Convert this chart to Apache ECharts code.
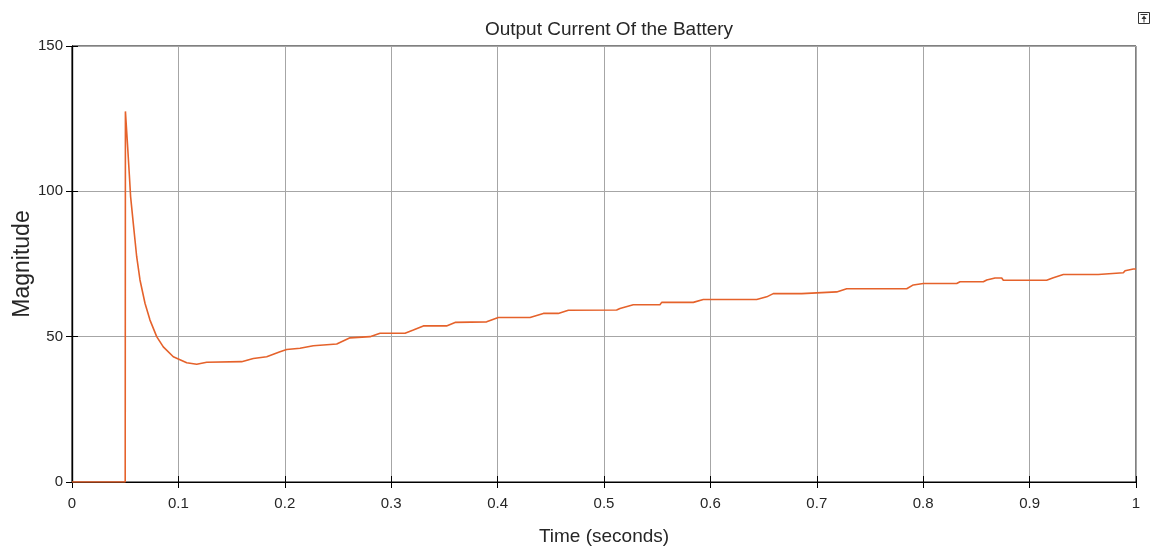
<!DOCTYPE html>
<html>
<head>
<meta charset="utf-8">
<script src="https://cdn.jsdelivr.net/npm/echarts@6/dist/echarts.min.js"></script>
<style>
html,body{margin:0;padding:0;background:#fff;}
#c{width:1158px;height:551px;}
</style>
</head>
<body>
<div id="c"></div>
<script>
// Time (s) and output current magnitude
const timeS = [0, 0.05, 0.0502, 0.0508, 0.0523, 0.0539, 0.0551, 0.0576, 0.0608, 0.0639, 0.0686, 0.0733, 0.0796, 0.0858, 0.0952, 0.1078, 0.1172, 0.1266, 0.1595, 0.1704, 0.183, 0.1955, 0.2018, 0.2143, 0.2268, 0.2488, 0.2613, 0.2801, 0.2895, 0.313, 0.3208, 0.3302, 0.352, 0.36, 0.3897, 0.4007, 0.4305, 0.443, 0.457, 0.4665, 0.5119, 0.515, 0.5275, 0.5526, 0.5542, 0.5839, 0.5933, 0.6435, 0.6529, 0.6591, 0.6858, 0.6873, 0.7187, 0.7281, 0.7845, 0.7907, 0.8001, 0.8315, 0.8346, 0.8565, 0.8597, 0.8675, 0.8738, 0.8753, 0.916, 0.9223, 0.9317, 0.9645, 0.9662, 0.9881, 0.9897, 0.9975, 1.0];
const current = [0, 0, 127.5, 127.5, 115.3, 105.6, 98.1, 89, 77.5, 69.5, 61.5, 55.7, 50, 46.5, 43.1, 41.0, 40.5, 41.2, 41.4, 42.5, 43.1, 44.8, 45.6, 46.0, 46.9, 47.5, 49.6, 50.0, 51.2, 51.2, 52.3, 53.7, 53.7, 54.9, 55.1, 56.6, 56.6, 58.0, 58.0, 59.1, 59.2, 59.7, 61.0, 61.0, 61.8, 61.8, 62.8, 62.8, 63.7, 64.8, 64.8, 65.4, 65.4, 66.5, 66.5, 67.8, 68.3, 68.3, 68.9, 68.9, 69.5, 70.2, 70.2, 69.4, 69.4, 70.3, 71.4, 71.4, 72.0, 72.0, 72.7, 73.3, 73.3];
const xTicks = {min: 0, max: 1, interval: 0.1};
const yTicks = {min: 0, max: 150, interval: 50};
const titleText = 'Output Current Of the Battery';
const xName = 'Time (seconds)';
const yName = 'Magnitude';

const FONT = "'Liberation Sans', Arial, Helvetica, sans-serif";
const chart = echarts.init(document.getElementById('c'), null, {renderer: 'canvas'});
const tick = {show: true, inside: true, length: 6, lineStyle: {color: '#000', width: 1}};
const axisCommon = {
  axisLine: {show: true, lineStyle: {color: '#000', width: 1.2}},
  axisTick: tick,
  splitLine: {show: true, lineStyle: {color: '#a6a6a6', width: 1}},
  axisLabel: {color: '#262626', fontFamily: FONT, fontSize: 15}
};
const hiddenAxis = {
  axisLine: {show: true, lineStyle: {color: '#000', width: 1.2}},
  axisTick: tick, splitLine: {show: false}, axisLabel: {show: false}
};
chart.setOption({
  animation: false,
  backgroundColor: '#fff',
  title: {
    text: titleText, left: 604, top: 15, textAlign: 'center',
    textStyle: {fontFamily: FONT, fontSize: 19, fontWeight: 'normal', color: '#262626'}
  },
  grid: {left: 72, right: 22, top: 46, bottom: 69, show: true, borderColor: '#000', borderWidth: 1,
         backgroundColor: '#fff', containLabel: false, outerBoundsMode: 'none'},
  xAxis: [Object.assign({}, axisCommon, {
    type: 'value', min: xTicks.min, max: xTicks.max, interval: xTicks.interval,
    name: xName, nameLocation: 'middle', nameGap: 45,
    nameTextStyle: {fontFamily: FONT, fontSize: 19, color: '#262626'},
    axisLabel: Object.assign({}, axisCommon.axisLabel, {margin: 14, formatter: v => String(+v.toFixed(1))})
  }), Object.assign({}, hiddenAxis, {
    type: 'value', position: 'top', min: xTicks.min, max: xTicks.max, interval: xTicks.interval
  })],
  yAxis: [Object.assign({}, axisCommon, {
    type: 'value', min: yTicks.min, max: yTicks.max, interval: yTicks.interval,
    name: yName, nameLocation: 'middle', nameGap: 38, nameRotate: 90, nameMoveOverlap: false,
    nameTextStyle: {fontFamily: FONT, fontSize: 23, color: '#262626'},
    axisLabel: Object.assign({}, axisCommon.axisLabel, {margin: 9})
  }), Object.assign({}, hiddenAxis, {
    type: 'value', position: 'right', min: yTicks.min, max: yTicks.max, interval: yTicks.interval
  })],
  series: [{
    type: 'line', xAxisIndex: 0, yAxisIndex: 0,
    data: timeS.map((t, i) => [t, current[i]]),
    showSymbol: false, symbol: 'none', clip: true,
    lineStyle: {color: '#e5622b', width: 1.6},
    z: 3
  }],
  graphic: [{
    type: 'group', left: 1138, top: 12,
    children: [
      {type: 'rect', shape: {x: 0, y: 0, width: 11, height: 11}, style: {fill: '#fff', stroke: '#333', lineWidth: 1}},
      {type: 'line', shape: {x1: 2, y1: 2, x2: 9, y2: 2}, style: {stroke: '#333', lineWidth: 1}},
      {type: 'polygon', shape: {points: [[5.5, 3], [3, 6.5], [8, 6.5]]}, style: {fill: '#333'}},
      {type: 'line', shape: {x1: 5.5, y1: 6, x2: 5.5, y2: 10}, style: {stroke: '#333', lineWidth: 1}}
    ]
  }]
});
</script>
</body>
</html>
